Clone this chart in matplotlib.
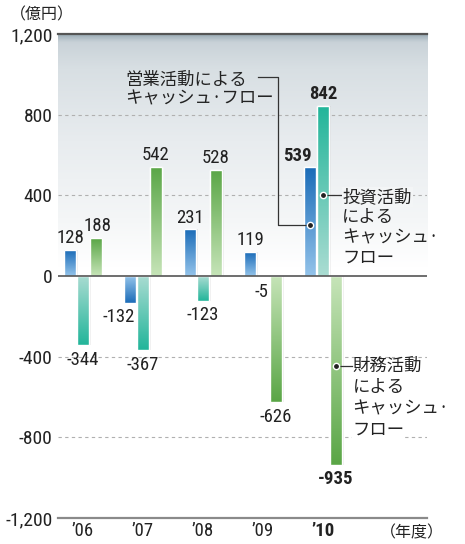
import matplotlib
matplotlib.use("Agg")
import matplotlib.pyplot as plt
import numpy as np
from matplotlib.colors import to_rgb

years = ["’06", "’07", "’08", "’09", "’10"]
operating = [128, -132, 231, 119, 539]   # 営業活動によるキャッシュ・フロー
investing = [-344, -367, -123, -5, 842]  # 投資活動によるキャッシュ・フロー
financing = [188, 542, 528, -626, -935]  # 財務活動によるキャッシュ・フロー
yticks = [-1200, -800, -400, 0, 400, 800, 1200]
ytick_labels = ["-1,200", "-800", "-400", "0", "400", "800", "1,200"]

NUM = ["Roboto Condensed", "Noto Sans CJK JP", "DejaVu Sans"]
JP = ["Noto Sans CJK JP", "DejaVu Sans"]
plt.rcParams["font.family"] = NUM

fig = plt.figure(figsize=(4.65, 5.44), dpi=100)
ax = fig.add_axes([58 / 465, 1 - 518 / 544, 369 / 465, 484 / 544])

# background gradient (grey at top, fading to white)
stops = [(0.0, "#ffffff"), (0.52, "#ffffff"), (0.62, "#f4f6f7"), (0.78, "#e8ecef"),
         (0.93, "#d8dfe3"), (0.985, "#c9d2d8"), (1.0, "#9dadb7")]
yy = np.linspace(0, 1, 300)
cols = np.array([[np.interp(t, [s[0] for s in stops], [to_rgb(s[1])[k] for s in stops])
                  for k in range(3)] for t in yy])
ax.imshow(cols[:, None, :], extent=[0, 1, 0, 1], transform=ax.transAxes,
          origin="lower", aspect="auto", zorder=0)
ax.set_xlim(-0.417, 5.73)
ax.set_ylim(-1200, 1200)

for v in [-800, -400, 400, 800]:
    ax.axhline(v, color="#b0b0b0", lw=0.8, ls=(0, (3, 3)), zorder=1)

x = np.arange(len(years))
w = 0.2
series = [
    (operating, -0.215, "#1b6cb8", "#93c3ea"),
    (investing, 0.0, "#22b59a", "#aadcd2"),
    (financing, 0.215, "#5aa646", "#c6e4b8"),
]

for vals, off, dark, light in series:
    bars = ax.bar(x + off, vals, w, color=dark, edgecolor="white", lw=1.0, zorder=3)
    d, l = np.array(to_rgb(dark)), np.array(to_rgb(light))
    t = np.linspace(0, 1, 100)[:, None]
    g = l + (d - l) * t  # light at zero, dark at the end
    for b, v in zip(bars, vals):
        x0 = b.get_x()
        arr = g if v >= 0 else g[::-1]
        im = ax.imshow(arr[:, None, :], extent=[x0, x0 + b.get_width(), min(0, v), max(0, v)],
                       origin="lower", aspect="auto", zorder=3.2)
        im.set_clip_path(b)
        # faint shadow on the right side
        ax.add_patch(plt.Rectangle((x0 + b.get_width(), min(0, v)), 0.025, abs(v),
                                   color="#000000", alpha=0.08, lw=0, zorder=2.9))
    ax.bar(x + off, vals, w, facecolor="none", edgecolor="white", lw=1.0, zorder=3.4)

ax.axhline(0, color="#555555", lw=1.2, zorder=5)

# value labels (x nudges in points)
nudge = {(1, 0): -8, (4, 0): -9, (0, 2): 1, (3, 1): -1}
for si, (vals, off, _, _) in enumerate(series):
    for i, v in enumerate(vals):
        dx = nudge.get((i, si), 0)
        wt = "bold" if i == 4 else "normal"
        if v >= 0:
            ax.annotate(str(v), (x[i] + off, v), xytext=(dx, 2), textcoords="offset points",
                        ha="center", va="bottom", fontsize=13.5, color="#222222",
                        fontweight=wt, zorder=2)
        else:
            ax.annotate(str(v), (x[i] + off, v), xytext=(dx, -4), textcoords="offset points",
                        ha="center", va="top", fontsize=13.5, color="#222222",
                        fontweight=wt, zorder=2)

# callouts
dot = dict(marker="o", ms=4.5, mfc="#222222", mec="white", mew=1.0, zorder=6)
# operating
ax.plot([2.92, 3.25, 3.25, x[4] - 0.215], [987, 987, 253, 253], color="#333333", lw=0.9, zorder=4)
ax.plot([x[4] - 0.215], [253], **dot)
for k, s in enumerate(["営業活動による", "キャッシュ·フロー"]):
    ax.text(0.70, 975 - k * 95, s, family=JP, fontsize=12.5, color="#222222",
            ha="left", va="center", zorder=6)
# investing
ax.plot([x[4], 4.31], [400, 400], color="#333333", lw=0.9, zorder=4)
ax.plot([x[4]], [400], **dot)
for k, s in enumerate(["投資活動", "による", "キャッシュ·", "フロー"]):
    ax.text(4.32, 392 - k * 101, s, family=JP, fontsize=12.5, color="#222222",
            ha="left", va="center", zorder=6,
            bbox=dict(facecolor="#f3f5f6", edgecolor="none", pad=0.5) if k == 0 else None)
# financing
ax.plot([x[4] + 0.215, 4.48], [-446, -446], color="#333333", lw=0.9, zorder=4)
ax.plot([x[4] + 0.215], [-446], **dot)
for k, s in enumerate(["財務活動", "による", "キャッシュ·", "フロー"]):
    ax.text(4.49, -446 - k * 105, s, family=JP, fontsize=12.5, color="#222222",
            ha="left", va="center", zorder=6,
            bbox=dict(facecolor="white", edgecolor="none", pad=0.5) if k == 3 else None)

for side in ["left", "right"]:
    ax.spines[side].set_visible(False)
ax.spines["top"].set_color("#555555")
ax.spines["top"].set_linewidth(1.6)
ax.spines["bottom"].set_color("#8a8a8a")
ax.spines["bottom"].set_linewidth(1.6)
ax.spines["top"].set_zorder(7)

ax.set_yticks(yticks)
ax.set_yticklabels(ytick_labels, fontsize=14, color="#222222")
ax.set_xticks(x)
ax.set_xticklabels(years, fontsize=13.5, color="#222222")
ax.get_xticklabels()[4].set_fontweight("bold")
ax.tick_params(length=0)
ax.tick_params(axis="y", pad=4)
ax.tick_params(axis="x", pad=3)

fig.text(10 / 465, 1 - 15 / 544, "（億円）", family=JP, fontsize=11.5, color="#222222",
         ha="left", va="center")
fig.text(380 / 465, 1 - 533 / 544, "（年度）", family=JP, fontsize=11.5, color="#222222",
         ha="left", va="center")

fig.savefig("out.png", dpi=100)
